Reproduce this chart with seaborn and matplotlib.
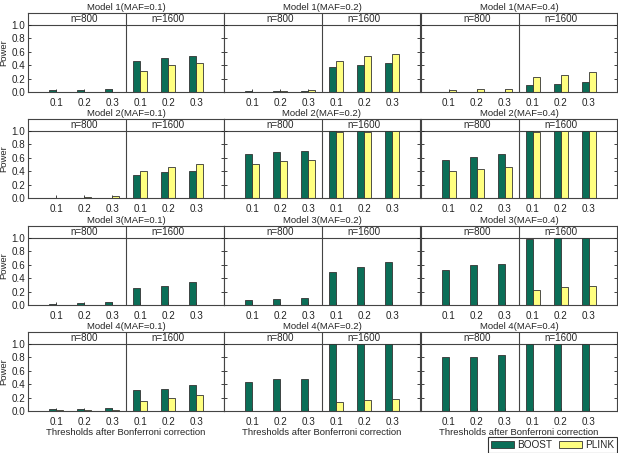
import numpy as np
import pandas as pd
import matplotlib
matplotlib.use("Agg")
import matplotlib.pyplot as plt
import seaborn as sns
from matplotlib.patches import Patch

sns.set_style("white")
plt.rcParams['font.family'] = ['Liberation Sans', 'DejaVu Sans']

thresholds = ["0.1", "0.2", "0.3"]
sample_sizes = ["n=800", "n=1600"]
methods = ["BOOST", "PLINK"]
models = ["Model 1", "Model 2", "Model 3", "Model 4"]
mafs = ["0.1", "0.2", "0.4"]

# values: [n=800 (0.1,0.2,0.3), n=1600 (0.1,0.2,0.3)]
boost_m1 = [[0.025, 0.035, 0.045, 0.465, 0.505, 0.535],
            [0.01, 0.015, 0.015, 0.37, 0.41, 0.435],
            [0.003, 0.005, 0.005, 0.11, 0.125, 0.155]]
plink_m1 = [[0.0, 0.0, 0.0, 0.317, 0.396, 0.436],
            [0.005, 0.01, 0.035, 0.47, 0.54, 0.57],
            [0.03, 0.04, 0.04, 0.23, 0.26, 0.30]]
boost_m2 = [[0.005, 0.0, 0.0, 0.347, 0.39, 0.41],
            [0.653, 0.688, 0.708, 1.0, 1.0, 1.0],
            [0.57, 0.61, 0.653, 1.0, 1.0, 1.0]]
plink_m2 = [[0.005, 0.015, 0.03, 0.405, 0.465, 0.51],
            [0.51, 0.55, 0.57, 0.985, 0.99, 1.0],
            [0.405, 0.436, 0.465, 0.985, 0.995, 1.0]]
boost_m3 = [[0.015, 0.03, 0.04, 0.25, 0.285, 0.35],
            [0.07, 0.09, 0.105, 0.50, 0.575, 0.635],
            [0.517, 0.596, 0.616, 0.985, 1.0, 1.0]]
plink_m3 = [[0.0, 0.0, 0.0, 0.0, 0.0, 0.0],
            [0.0, 0.0, 0.0, 0.0, 0.0, 0.0],
            [0.005, 0.005, 0.005, 0.22, 0.266, 0.286]]
boost_m4 = [[0.025, 0.03, 0.045, 0.31, 0.335, 0.385],
            [0.433, 0.473, 0.483, 1.0, 1.0, 1.0],
            [0.80, 0.81, 0.837, 1.0, 1.0, 1.0]]
plink_m4 = [[0.01, 0.01, 0.01, 0.148, 0.187, 0.246],
            [0.005, 0.005, 0.005, 0.133, 0.163, 0.182],
            [0.0, 0.0, 0.0, 0.0, 0.0, 0.0]]

boost_all = [boost_m1, boost_m2, boost_m3, boost_m4]
plink_all = [plink_m1, plink_m2, plink_m3, plink_m4]

green = "#0b6e57"
yellow = "#ffff80"
palette = {"BOOST": green, "PLINK": yellow}
FS = 6.8

W, H = 618, 453
fig = plt.figure(figsize=(W / 100, H / 100), dpi=100)

col_left = [28, 224, 421]
col_w = 196
row_top = [13, 119, 226, 332]
row_h = 79

cats = [f"{s}|{t}" for s in sample_sizes for t in thresholds]
for r in range(4):
    for c in range(3):
        ax = fig.add_axes([col_left[c] / W, (H - row_top[r] - row_h) / H,
                           col_w / W, row_h / H])
        rows = []
        for i, cat in enumerate(cats):
            rows.append({"cat": cat, "method": "BOOST", "power": boost_all[r][c][i]})
            rows.append({"cat": cat, "method": "PLINK", "power": plink_all[r][c][i]})
        df = pd.DataFrame(rows)
        sns.barplot(data=df, x="cat", y="power", hue="method", order=cats,
                    hue_order=methods, palette=palette, width=0.5, gap=0.1,
                    edgecolor="#333333", linewidth=0.6, saturation=1,
                    legend=False, ax=ax)
        ax.set_xlim(-1, 6)
        ax.set_ylim(0, 1.18)
        ax.axhline(1.0, color="#444444", lw=0.8, zorder=0.5)
        ax.axvline(2.5, color="#444444", lw=0.8)
        ax.text(1, 1.095, sample_sizes[0], ha="center", va="center", fontsize=FS + 0.3)
        ax.text(4, 1.095, sample_sizes[1], ha="center", va="center", fontsize=FS + 0.3)
        ax.set_xticks(range(6))
        ax.set_xticklabels(thresholds * 2, fontsize=FS + 0.3)
        ax.set_yticks([0, 0.2, 0.4, 0.6, 0.8, 1.0])
        if c == 0:
            ax.set_yticklabels(["0.0", "0.2", "0.4", "0.6", "0.8", "1.0"], fontsize=FS + 0.3)
            ax.set_ylabel("Power", fontsize=FS, labelpad=2)
        else:
            ax.set_yticklabels([])
            ax.set_ylabel("")
        if r == 3:
            ax.set_xlabel("Thresholds after Bonferroni correction", fontsize=FS, labelpad=1)
        else:
            ax.set_xlabel("")
        ax.set_title(f"{models[r]}(MAF={mafs[c]})", fontsize=FS, pad=2)
        ax.tick_params(axis="both", direction="in", length=2.5, width=0.6,
                       pad=2, left=True, right=True, bottom=True, colors="#222222")
        ax.tick_params(axis="x", pad=4)
        for sp in ax.spines.values():
            sp.set_color("#444444")
            sp.set_linewidth(0.8)

handles = [Patch(facecolor=green, edgecolor="#333333", linewidth=0.6),
           Patch(facecolor=yellow, edgecolor="#333333", linewidth=0.6)]
leg = fig.legend(handles, methods, loc="lower right", ncol=2,
                 bbox_to_anchor=(617 / W, 0 / H), fontsize=FS + 0.4, frameon=True,
                 fancybox=False, edgecolor="#333333", framealpha=1,
                 handlelength=2.3, handleheight=0.75, handletextpad=0.3,
                 columnspacing=0.7, borderpad=0.3, borderaxespad=0)
leg.get_frame().set_linewidth(0.8)

fig.savefig("out.png", dpi=100)
